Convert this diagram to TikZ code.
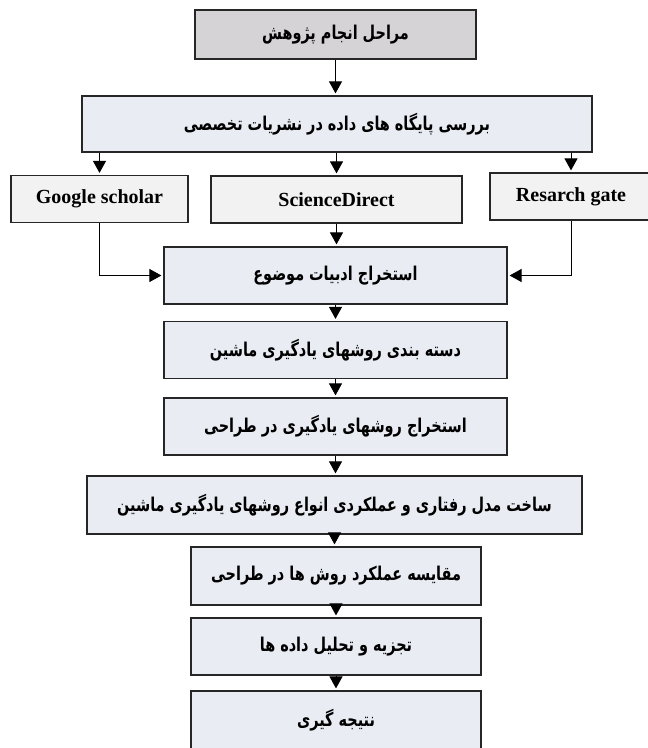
\documentclass[tikz,border=0pt]{standalone}
\usepackage{fontspec}
\setmainfont{Liberation Serif}
\newfontfamily\fafont[Script=Arabic,FakeStretch=0.76]{DejaVu Sans}
\TeXXeTstate=1
\usetikzlibrary{arrows.meta}
\definecolor{headgray}{RGB}{214,211,214}
\definecolor{stepblue}{RGB}{233,237,243}
\definecolor{srcgray}{RGB}{242,242,242}
\newcommand{\fatext}[1]{{\fafont\bfseries\fontsize{9.5}{11}\selectfont\beginR #1\endR}}
\begin{document}
\begin{tikzpicture}[x=0.5pt,y=-0.5pt,
  box/.style={draw=black!85,line width=0.6pt,inner sep=0pt,minimum height=28.5pt},
  headbox/.style={box,fill=headgray},
  stepbox/.style={box,fill=stepblue},
  srcbox/.style={box,fill=srcgray,minimum height=23.5pt,font=\bfseries\fontsize{10}{12}\selectfont},
  arr/.style={-{Triangle[length=6pt,width=6.5pt]},line width=0.5pt,shorten >=1pt}]
\useasboundingbox (0,0) rectangle (647,748);
% title and databases
\node[headbox,minimum width=140.5pt,minimum height=24.5pt] (steps) at (335.5,34.5) {\fatext{مراحل انجام پژوهش}};
\node[stepbox,minimum width=255pt,minimum height=28pt] (dbase) at (337,124) {\fatext{بررسی پایگاه های داده در نشریات تخصصی}};
\node[srcbox,minimum width=88.5pt] (google) at (99.5,199) {Google scholar};
\node[srcbox,minimum width=125.5pt] (sdirect) at (336.5,199.5) {ScienceDirect};
\node[srcbox,minimum width=81pt] (rgate) at (571,196.5) {Resarch gate};
% main steps
\node[stepbox,minimum width=171.5pt] (litrev) at (335.5,275.5) {\fatext{استخراج ادبیات موضوع}};
\node[stepbox,minimum width=171.5pt] (classes) at (335.5,350) {\fatext{دسته بندی روشهای یادگیری ماشین}};
\node[stepbox,minimum width=171.5pt] (extract) at (335.5,426.5) {\fatext{استخراج روشهای یادگیری در طراحی}};
\node[stepbox,minimum width=247.5pt,minimum height=29pt] (model) at (334.5,505) {\fatext{ساخت مدل رفتاری و عملکردی انواع روشهای یادگیری ماشین}};
\node[stepbox,minimum width=145pt,minimum height=29pt] (compare) at (336,576) {\fatext{مقایسه عملکرد روش ها در طراحی}};
\node[stepbox,minimum width=145pt] (analyse) at (336,646.5) {\fatext{تجزیه و تحلیل داده ها}};
\node[stepbox,minimum width=145pt,minimum height=29pt] (result) at (336,720) {\fatext{نتیجه گیری}};
% arrows
\draw[arr] (steps.south) -- (steps.south |- dbase.north);
\draw[arr] (google.north |- dbase.south) -- (google.north);
\draw[arr] (sdirect.north |- dbase.south) -- (sdirect.north);
\draw[arr] (rgate.north |- dbase.south) -- (rgate.north);
\draw[arr] (sdirect.south) -- (sdirect.south |- litrev.north);
\draw[arr] (google.south) |- (litrev.west);
\draw[arr] (rgate.south) |- (litrev.east);
\foreach \a/\b in {litrev/classes,classes/extract,extract/model,model/compare,compare/analyse,analyse/result}
  \draw[arr] (\a.south) -- (\a.south |- \b.north);
\end{tikzpicture}
\end{document}
